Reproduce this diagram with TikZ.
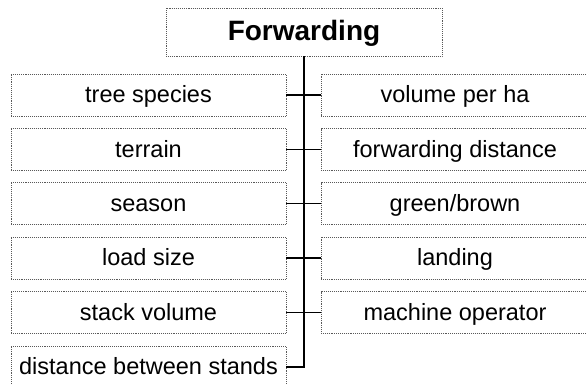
\documentclass[tikz,border=0pt]{standalone}
\usepackage{fontspec}
\setmainfont{Liberation Sans}
\begin{document}
\begin{tikzpicture}[x=1pt,y=-1pt,
    box/.style={draw=gray!70!black,densely dotted,line width=0.9pt,inner sep=0pt,outer sep=0pt,
        minimum height=42pt,text height=19pt,text depth=4pt,font=\fontsize{23.5}{27}\selectfont},
    lbox/.style={box,minimum width=275pt},
    rbox/.style={box,minimum width=268pt},
    link/.style={line width=1.3pt,black}]

        \useasboundingbox (0,0) rectangle (586,384);
        \clip (0,0) rectangle (586,384);
        %\draw [help lines] (0,0) grid [step=20] (586,384);

        \path   (304,32) node (fw) [box,minimum width=276pt,minimum height=48pt,
                    text height=22pt,text depth=5pt,
                    font=\fontsize{28}{32}\selectfont\bfseries] {Forwarding}
                (148.5,95)  node (ts) [lbox] {tree species}
                (148.5,149.5) node (te) [lbox] {terrain}
                (148.5,203.5) node (se) [lbox] {season}
                (148.5,258) node (ls) [lbox] {load size}
                (148.5,312.5) node (sv) [lbox] {stack volume}
                (148.5,367) node (db) [lbox] {distance between stands}
                (455,95)  node (vp) [rbox] {volume per ha}
                (455,149.5) node (fd) [rbox] {forwarding distance}
                (455,203.5) node (gb) [rbox] {green/brown}
                (455,258) node (la) [rbox] {landing}
                (455,312.5) node (mo) [rbox] {machine operator};

        \draw[link] (node cs: name=fw, anchor=south) |- (node cs: name=db, anchor=east);
        \draw[link] (node cs: name=ts, anchor=east) -- (node cs: name=vp, anchor=west);
        \draw[link] (node cs: name=te, anchor=east) -- (node cs: name=fd, anchor=west);
        \draw[link] (node cs: name=se, anchor=east) -- (node cs: name=gb, anchor=west);
        \draw[link] (node cs: name=ls, anchor=east) -- (node cs: name=la, anchor=west);
        \draw[link] (node cs: name=sv, anchor=east) -- (node cs: name=mo, anchor=west);

\end{tikzpicture}
\end{document}
